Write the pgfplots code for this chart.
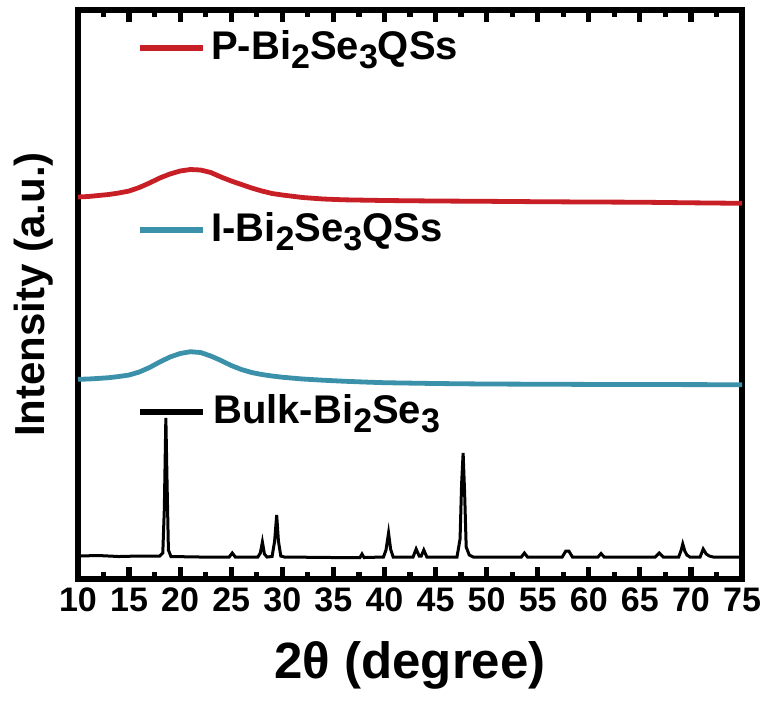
\documentclass[border=0pt]{standalone}
\usepackage{fontspec}
\setmainfont{Liberation Sans}
\usepackage{pgfplots}
\pgfplotsset{compat=1.18}
\definecolor{pred}{RGB}{200,30,38}
\definecolor{iteal}{RGB}{60,145,170}
\newcommand{\sub}[1]{\raisebox{-0.45ex}{\scalebox{0.85}{#1}}}
\begin{document}
\begin{tikzpicture}
\begin{axis}[
  scale only axis, width=332pt, height=284.5pt,
  xmin=10, xmax=75, ymin=0, ymax=569,
  axis line style={line width=2.8pt},
  xtick={10,15,...,75}, minor xtick={12.5,17.5,...,72.5},
  xtick pos=both, xtick align=inside,
  major tick length=6pt, minor tick length=3.5pt,
  every major tick/.append style={line width=2.6pt, black},
  every minor tick/.append style={line width=2.6pt, black},
  ytick=\empty,
  /pgf/number format/assume math mode=true,
  ticklabel style={font=\bfseries\fontsize{17}{17}\selectfont},
  xlabel={2θ (degree)},
  ylabel={Intensity (a.u.)},
  xlabel style={font=\bfseries\fontsize{25.5}{25.5}\selectfont, at={(axis description cs:0.5,-0.097)}, anchor=north},
  ylabel style={font=\bfseries\fontsize{21}{21}\selectfont, at={(axis description cs:-0.026,0.5)}, anchor=south},
  xticklabel style={yshift=-1pt},
  clip=false,
]
\coordinate (bl) at (rel axis cs:0,0);
\coordinate (tr) at (rel axis cs:1,1);
% Bulk
\addplot[black, line width=1.5pt] coordinates {
(10,23)(12,23.5)(14,22.5)(16,23)(18.0,23)(18.3,26)(18.45,70)(18.6,161)(18.72,95)(18.85,29)(19.1,22.5)
(22,22)(24.8,22)(25.1,26)(25.4,22)(27.6,22)(27.85,26)(28.05,37)(28.25,25)(28.5,22)
(29.0,22.5)(29.25,38)(29.45,64)(29.62,38)(29.85,23)(30.2,22)(35,21.5)(37.6,21.5)(37.8,25)(38.0,21.5)
(39.9,22)(40.15,29)(40.4,46)(40.6,30)(40.85,22)(42.8,22)(43.1,30)(43.4,23)(43.6,23)(43.85,29)(44.15,22)
(47.1,22)(47.4,40)(47.55,95)(47.7,126)(47.85,85)(48.0,32)(48.3,24)(48.7,22)
(53.4,22)(53.7,26)(54.0,22)(57.4,22)(57.75,28)(58.05,28)(58.4,22)(60.9,22)(61.2,25.5)(61.5,22)
(66.5,22)(66.9,26)(67.3,22)(68.8,22)(69.05,29)(69.2,35)(69.4,28)(69.6,24)(69.9,22)
(70.9,22)(71.2,30)(71.5,25)(71.8,23)(72.2,22)(75,22)
};
% I-Bi2Se3
\addplot[iteal, line width=2.4pt] coordinates {
(10,199.7)(11,200)(12,200.6)(13,201.3)(14,202.5)(15,204)(16,207)(17,211.5)(18,217)(19,222)
(20,225.5)(21,227.3)(22,226.5)(23,223)(24,218.5)(25,213.5)(26,209.5)(27,206.5)(28,204.5)(29,203)
(30,201.8)(32,200)(34,198.8)(36,197.8)(38,197)(40,196.3)(45,195.5)(50,195)(55,194.8)(60,194.6)
(65,194.5)(70,194.4)(75,194.3)
};
% P-Bi2Se3
\addplot[pred, line width=2.4pt] coordinates {
(10,382)(11,382.5)(12,383.5)(13,384.5)(14,386)(15,388)(16,391.5)(17,396)(18,401)(19,405)
(20,408)(21,409.5)(22,409)(23,406.5)(24,402)(25,398)(26,394.5)(27,391)(28,388)(29,385.5)
(30,384)(32,381.5)(34,380)(36,379.2)(40,378.5)(45,378)(50,377.7)(55,377.3)(60,377)(65,376.8)
(70,376.2)(75,375.7)
};
% legend entries
\draw[pred, line width=2.6pt] (axis cs:16.1,531) -- (axis cs:22.2,531);
\node[anchor=base west, font=\bfseries\fontsize{20}{20}\selectfont, inner sep=0pt] at (axis cs:23.0,520) {P-Bi\sub{2}Se\sub{3}QSs};
\draw[iteal, line width=2.6pt] (axis cs:16.1,349) -- (axis cs:22.2,349);
\node[anchor=base west, font=\bfseries\fontsize{20}{20}\selectfont, inner sep=0pt] at (axis cs:23.0,338) {I-Bi\sub{2}Se\sub{3}QSs};
\draw[black, line width=2.6pt] (axis cs:16.1,167) -- (axis cs:22.2,167);
\node[anchor=base west, font=\bfseries\fontsize{20}{20}\selectfont, inner sep=0pt] at (axis cs:23.2,156) {Bulk-Bi\sub{2}Se\sub{3}};
\end{axis}
\pgfresetboundingbox
\path[use as bounding box] ([xshift=-39pt,yshift=-62pt]bl) rectangle ([xshift=14pt,yshift=5pt]tr);
\end{tikzpicture}
\end{document}
